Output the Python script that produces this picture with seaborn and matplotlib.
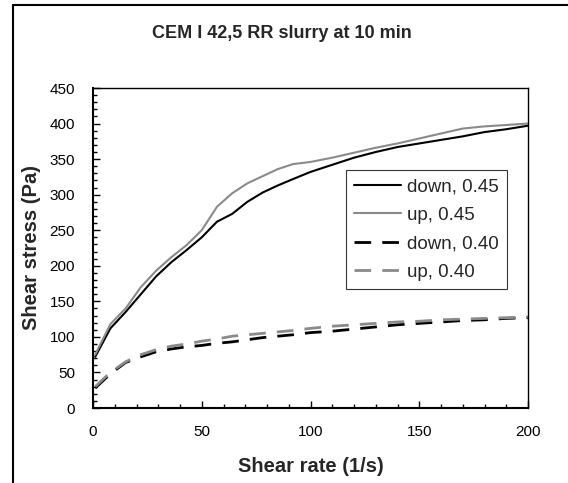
import matplotlib.pyplot as plt
import pandas as pd
import seaborn as sns
from matplotlib.lines import Line2D
from matplotlib.ticker import MultipleLocator

# shear rate grid (1/s)
rate = [1, 8, 15, 22, 29, 36, 43, 50, 57, 64, 71, 78, 85, 92, 100,
        110, 120, 130, 140, 150, 160, 170, 180, 190, 200]

down_045 = [72, 112, 135, 160, 185, 205, 222, 240, 262, 273, 290, 303, 313, 322, 332,
            342, 352, 360, 367, 372, 377, 382, 388, 392, 397]
up_045 = [75, 118, 140, 170, 193, 212, 229, 250, 283, 302, 316, 326, 336, 343, 346,
          352, 359, 366, 372, 379, 386, 393, 396, 398, 400]
down_040 = [28, 48, 64, 72, 79, 83, 86, 88, 91, 93, 96, 99, 101, 103, 106,
            108, 111, 114, 117, 119, 121, 123, 124, 126, 127]
up_040 = [30, 50, 65, 75, 82, 87, 90, 94, 97, 101, 103, 105, 107, 109, 112,
          115, 117, 119, 121, 122, 124, 125, 126, 127, 128]

labels = ["down, 0.45", "up, 0.45", "down, 0.40", "up, 0.40"]

df = pd.DataFrame({"rate": rate, labels[0]: down_045, labels[1]: up_045,
                   labels[2]: down_040, labels[3]: up_040})
df = df.melt(id_vars="rate", var_name="series", value_name="stress")

sns.set_style("ticks")
plt.rcParams["font.family"] = ["Liberation Sans", "DejaVu Sans"]

fig = plt.figure(figsize=(5.68, 4.83), dpi=100)
ax = fig.add_axes([93 / 568, 1 - 408 / 483, 435 / 568, 320 / 483])

gray = "#8a8a8a"
palette = {labels[0]: "black", labels[1]: gray, labels[2]: "black", labels[3]: gray}
dashes = {labels[0]: "", labels[1]: "", labels[2]: (6, 4), labels[3]: (6, 4)}
sizes = {labels[0]: 1.5, labels[1]: 1.5, labels[2]: 2.0, labels[3]: 2.0}
sns.lineplot(data=df, x="rate", y="stress", hue="series", style="series",
             size="series", sizes=sizes,
             palette=palette, dashes=dashes, ax=ax, sort=False)

ax.set_xlim(0, 200)
ax.set_ylim(0, 450)
ax.xaxis.set_major_locator(MultipleLocator(50))
ax.xaxis.set_minor_locator(MultipleLocator(10))
ax.yaxis.set_major_locator(MultipleLocator(50))
ax.yaxis.set_minor_locator(MultipleLocator(10))
ax.tick_params(which="both", direction="in", colors="black", labelsize=11, width=1)
ax.tick_params(which="major", length=5)
ax.tick_params(which="minor", length=3)
ax.tick_params(axis="y", which="major", pad=13)
ax.tick_params(axis="x", which="major", pad=12)
for s in ax.spines.values():
    s.set_linewidth(1)
    s.set_color("black")
ax.spines["bottom"].set_linewidth(1.5)
ax.spines["left"].set_linewidth(1.5)

ax.set_xlabel("Shear rate (1/s)", fontsize=14.5, fontweight="bold", labelpad=13)
ax.set_ylabel("Shear stress (Pa)", fontsize=14.5, fontweight="bold", labelpad=6)
fig.text(282 / 568, 1 - 33 / 483, "CEM I 42,5 RR slurry at 10 min",
         ha="center", va="center", fontsize=13, fontweight="bold")

leg = ax.legend(loc="upper left", bbox_to_anchor=((346 - 93) / 435, (408 - 170) / 320),
                fontsize=13.5, frameon=True, fancybox=False, handlelength=2.5,
                handletextpad=0.3, borderpad=0.45, labelspacing=0.6, borderaxespad=0)
leg.get_frame().set_edgecolor("black")
leg.get_frame().set_linewidth(0.8)

# outer chart frame (cropped)
fig.add_artist(Line2D([13 / 568, 13 / 568], [0, 1 - 5 / 483], color="black", lw=1.5))
fig.add_artist(Line2D([13 / 568, 1], [1 - 5 / 483, 1 - 5 / 483], color="black", lw=1.5))

fig.savefig("out.png", dpi=100)
